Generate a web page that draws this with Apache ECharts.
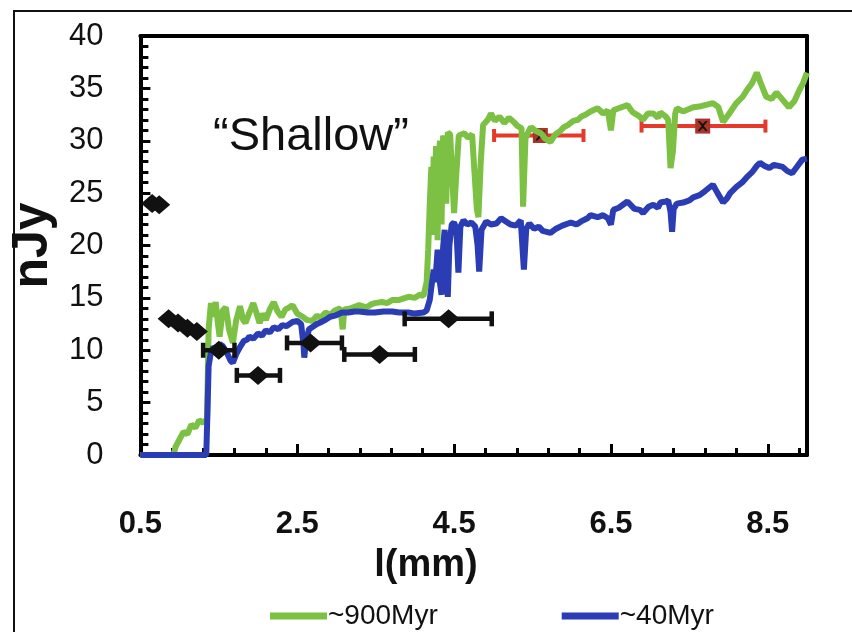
<!DOCTYPE html>
<html><head><meta charset="utf-8">
<script src="https://cdn.jsdelivr.net/npm/echarts@6/dist/echarts.min.js"></script>
<style>
html,body{margin:0;padding:0;background:#fff}
#wrap{position:relative;width:852px;height:632px;overflow:hidden;background:#fff}
#c{position:absolute;left:0;top:0;width:852px;height:632px}
#frame{position:absolute;left:13px;top:10px;width:900px;height:700px;border:2px solid #111;pointer-events:none}
</style>
</head><body><div id="wrap"><div id="frame"></div><div id="c"></div></div>
<script>
const xTicks = [0.5, 2.5, 4.5, 6.5, 8.5];
const yTicks = [0, 5, 10, 15, 20, 25, 30, 35, 40];
const seriesNames = ['~900Myr', '~40Myr'];
const xName = 'l(mm)';
const yName = 'nJy';

const green900 = [[0.5,0],[0.92,0],[0.95,0.8],[1.0,1.5],[1.05,2.2],[1.1,2.0],[1.15,2.9],[1.2,2.6],[1.25,3.3],[1.3,3.1],[1.35,3.4],[1.37,12],[1.40,14.5],[1.43,13.2],[1.46,14.6],[1.49,12.5],[1.51,11.3],[1.55,13.8],[1.59,14.1],[1.63,12.0],[1.68,10.7],[1.72,12.8],[1.77,14.2],[1.81,12.9],[1.84,12.6],[1.89,13.6],[1.94,14.5],[1.97,13.8],[2.02,12.6],[2.06,13.5],[2.10,12.9],[2.15,13.9],[2.20,14.6],[2.25,13.7],[2.30,13.2],[2.35,13.9],[2.40,14.1],[2.44,14.3],[2.50,13.5],[2.57,13.2],[2.62,12.9],[2.69,12.8],[2.75,13.3],[2.80,13.1],[2.86,13.6],[2.92,13.4],[2.98,13.8],[3.05,14.0],[3.08,12.0],[3.10,13.9],[3.18,14.0],[3.25,14.2],[3.29,14.3],[3.38,14.1],[3.45,14.4],[3.49,14.5],[3.58,14.6],[3.65,14.5],[3.71,14.8],[3.80,14.8],[3.88,15.0],[3.92,15.1],[4.00,15.0],[4.06,15.3],[4.11,15.2],[4.15,16.5],[4.17,19.6],[4.19,24],[4.21,27.5],[4.22,21],[4.24,28.5],[4.25,23],[4.27,29.5],[4.29,20.5],[4.30,27.5],[4.32,30],[4.34,22],[4.36,30.5],[4.38,29.5],[4.40,24],[4.42,30.8],[4.45,30.6],[4.48,26],[4.50,23.1],[4.53,27],[4.56,30.5],[4.63,30.7],[4.68,30.3],[4.73,30.6],[4.76,27],[4.79,23.5],[4.81,22.7],[4.84,28],[4.87,31.5],[4.93,32.0],[4.97,32.6],[5.02,31.9],[5.08,32.3],[5.14,31.7],[5.20,32.2],[5.26,31.8],[5.31,31.4],[5.36,31.2],[5.38,23.7],[5.41,30.2],[5.45,30.9],[5.48,31.3],[5.55,30.9],[5.61,30.7],[5.66,30.2],[5.73,29.9],[5.79,30.6],[5.85,30.9],[5.90,31.3],[5.95,31.5],[6.02,31.9],[6.08,32.0],[6.12,32.3],[6.18,32.5],[6.24,32.8],[6.33,33.1],[6.40,32.6],[6.46,32.9],[6.50,31.0],[6.53,32.9],[6.60,33.1],[6.71,33.4],[6.78,32.7],[6.85,32.4],[6.91,32.0],[6.97,32.6],[7.04,32.6],[7.10,32.2],[7.13,32.7],[7.20,32.3],[7.23,32.0],[7.26,27.4],[7.29,29],[7.32,32.6],[7.34,33.1],[7.42,32.8],[7.55,33.2],[7.65,33.3],[7.80,33.6],[7.87,33.2],[7.93,31.8],[8.00,32.5],[8.10,33.6],[8.18,34.2],[8.23,34.8],[8.30,35.5],[8.36,36.5],[8.42,35.3],[8.48,34.2],[8.55,34.0],[8.61,34.6],[8.68,34.0],[8.77,33.2],[8.84,33.8],[8.90,34.8],[8.95,35.5],[9.0,36.5]];

const blue40 = [[0.5,0],[1.34,0],[1.355,4],[1.37,8.5],[1.40,9.8],[1.43,10.3],[1.47,10.1],[1.51,10.6],[1.55,10.4],[1.60,9.8],[1.65,9.0],[1.68,8.8],[1.72,9.6],[1.77,10.3],[1.82,10.9],[1.86,11.0],[1.89,11.3],[1.94,11.1],[2.00,11.6],[2.05,11.4],[2.10,11.9],[2.15,11.7],[2.20,12.2],[2.26,12.0],[2.31,12.4],[2.36,12.3],[2.44,12.7],[2.50,12.8],[2.55,12.5],[2.58,10.5],[2.59,9.3],[2.61,10.8],[2.65,12.0],[2.69,12.2],[2.75,12.5],[2.81,12.7],[2.86,12.9],[2.92,13.2],[2.98,13.3],[3.07,13.6],[3.15,13.6],[3.23,13.7],[3.29,13.7],[3.40,13.6],[3.49,13.6],[3.60,13.7],[3.71,13.7],[3.80,13.6],[3.92,13.6],[4.00,13.5],[4.11,13.6],[4.15,13.8],[4.19,14.8],[4.21,16],[4.24,17.7],[4.26,16.5],[4.29,19.6],[4.31,17],[4.34,15.3],[4.36,19.8],[4.38,21.5],[4.40,18],[4.42,15.1],[4.44,20],[4.47,22.0],[4.50,22.2],[4.53,21.5],[4.555,17.4],[4.58,21.8],[4.62,22.4],[4.67,22.0],[4.72,22.2],[4.77,21.8],[4.80,20],[4.82,17.5],[4.85,21.5],[4.91,22.3],[4.97,22.0],[5.04,22.1],[5.10,22.6],[5.16,22.3],[5.22,22.0],[5.29,21.9],[5.35,22.4],[5.39,17.7],[5.42,21.6],[5.46,22.1],[5.52,21.6],[5.58,21.8],[5.63,21.4],[5.73,21.2],[5.80,21.6],[5.88,21.9],[5.99,22.2],[6.06,22.0],[6.12,22.3],[6.20,22.6],[6.24,22.9],[6.33,22.7],[6.40,22.9],[6.46,22.6],[6.50,22.0],[6.53,23.4],[6.60,23.6],[6.71,24.2],[6.80,23.5],[6.87,23.4],[6.91,23.1],[6.98,23.7],[7.04,23.9],[7.10,23.6],[7.13,24.1],[7.20,24.2],[7.23,24.3],[7.26,23.2],[7.28,21.3],[7.30,23.5],[7.34,24.0],[7.42,24.1],[7.50,24.3],[7.55,24.6],[7.63,24.8],[7.70,25.2],[7.80,25.8],[7.86,25.0],[7.93,24.1],[7.98,24.5],[8.02,25.0],[8.10,25.6],[8.17,26.0],[8.23,26.5],[8.30,27.0],[8.36,27.6],[8.40,27.9],[8.46,27.6],[8.52,27.4],[8.58,27.7],[8.69,27.5],[8.75,27.1],[8.81,26.9],[8.87,27.5],[8.94,28.2],[9.0,28.3]];

// black data points: x, y, x-error low, x-error high
const blackX    = [0.65, 0.74, 0.86, 0.98, 1.10, 1.22, 1.50, 2.00, 2.67, 3.55, 4.43];
const blackY    = [24.0, 23.9, 13.0, 12.6, 12.1, 11.8, 10.0, 7.6, 10.7, 9.6, 13.0];
const blackLow  = [0.65, 0.74, 0.86, 0.98, 1.10, 1.22, 1.30, 1.73, 2.37, 3.10, 3.87];
const blackHigh = [0.65, 0.74, 0.86, 0.98, 1.10, 1.22, 1.70, 2.28, 3.07, 4.00, 4.98];

// red data points
const redX    = [5.60, 7.67];
const redY    = [30.5, 31.4];
const redLow  = [5.01, 6.89];
const redHigh = [6.15, 8.47];

function errRender(color, capH, lw) {
  return function (params, api) {
    const y = api.value(1), lo = api.value(2), hi = api.value(3);
    if (!(hi > lo)) return null;
    const p1 = api.coord([lo, y]), p2 = api.coord([hi, y]);
    const st = { stroke: color, lineWidth: lw };
    return { type: 'group', children: [
      { type: 'line', shape: { x1: p1[0], y1: p1[1], x2: p2[0], y2: p2[1] }, style: st },
      { type: 'line', shape: { x1: p1[0], y1: p1[1] - capH / 2, x2: p1[0], y2: p1[1] + capH / 2 }, style: st },
      { type: 'line', shape: { x1: p2[0], y1: p2[1] - capH / 2, x2: p2[0], y2: p2[1] + capH / 2 }, style: st }
    ]};
  };
}

const blackErrData = blackX.map((x, i) => [x, blackY[i], blackLow[i], blackHigh[i]]);
const redErrData = redX.map((x, i) => [x, redY[i], redLow[i], redHigh[i]]);
const blackPts = blackX.map((x, i) => [x, blackY[i]]);
const redPts = redX.map((x, i) => [x, redY[i]]);

const FONT = '"Liberation Sans", Arial, sans-serif';

const chart = echarts.init(document.getElementById('c'));
chart.setOption({
  animation: false,
  grid: { left: 137, right: 45, top: 36, bottom: 177 },
  graphic: [
    { type: 'text', left: 213, top: 114, style: { text: '\u201cShallow\u201d', font: '47px ' + FONT, fill: '#111' }, z: 50, silent: true },
    { type: 'text', left: 'center', top: 547, style: { text: xName, font: 'bold 38px ' + FONT, fill: '#111' }, silent: true }
  ],
  legend: {
    data: seriesNames,
    left: 265, top: 597,
    icon: 'rect', itemWidth: 57, itemHeight: 7, itemGap: 124,
    textStyle: { fontSize: 28, color: '#111', fontFamily: FONT, padding: [0, 0, 0, -4] }
  },
  xAxis: [{
    type: 'value', min: 0.5, max: 9, interval: 2,
    axisLine: { show: true, onZero: false, lineStyle: { color: '#000', width: 4 } },
    axisTick: { show: true, inside: true, length: 11, lineStyle: { color: '#000', width: 3 } },
    minorTick: { show: true, splitNumber: 5, length: 7, lineStyle: { color: '#000', width: 3 } },
    splitLine: { show: false },
    axisLabel: { margin: 54, fontSize: 31, fontWeight: 'bold', color: '#111', fontFamily: FONT, showMaxLabel: false }
  }, {
    type: 'value', position: 'top', min: 0.5, max: 9,
    axisLine: { show: true, onZero: false, lineStyle: { color: '#000', width: 4 } },
    axisTick: { show: false }, axisLabel: { show: false }, splitLine: { show: false }
  }],
  yAxis: [{
    type: 'value', min: 0, max: 40, interval: 5,
    name: yName, nameLocation: 'middle', nameGap: 80,
    nameTextStyle: { fontSize: 50, fontWeight: 'bold', color: '#111', fontFamily: FONT },
    axisLine: { show: true, lineStyle: { color: '#000', width: 4 } },
    axisTick: { show: true, inside: true, length: 10, lineStyle: { color: '#000', width: 3 } },
    minorTick: { show: true, splitNumber: 5, length: 8, lineStyle: { color: '#000', width: 3 } },
    splitLine: { show: false },
    axisLabel: { margin: 37, fontSize: 31, color: '#111', fontFamily: FONT }
  }, {
    type: 'value', position: 'right', min: 0, max: 40,
    axisLine: { show: true, onZero: false, lineStyle: { color: '#000', width: 4 } },
    axisTick: { show: false }, axisLabel: { show: false }, splitLine: { show: false }
  }],
  series: [
    { type: 'custom', name: 'redErr', renderItem: errRender('#e53a2a', 13, 4), data: redErrData, encode: { x: 0, y: 1 }, z: 2, silent: true },
    { type: 'scatter', name: 'redPt', data: redPts, symbol: 'rect', symbolSize: 15, itemStyle: { color: '#a8352a', opacity: 1 }, z: 3 },
    { type: 'scatter', name: 'redX', data: redPts, symbol: 'path://M0,0 L2,0 L5,3 L8,0 L10,0 L6,5 L10,10 L8,10 L5,7 L2,10 L0,10 L4,5 Z', symbolSize: 10, itemStyle: { color: '#111', opacity: 1 }, z: 4 },
    { type: 'line', name: seriesNames[0], data: green900, showSymbol: false, symbol: 'none', lineStyle: { color: '#7cc143', width: 6 }, itemStyle: { color: '#7cc143' }, z: 5 },
    { type: 'line', name: seriesNames[1], data: blue40, showSymbol: false, symbol: 'none', lineStyle: { color: '#2b3db4', width: 6 }, itemStyle: { color: '#2b3db4' }, z: 6 },
    { type: 'custom', name: 'blackErr', renderItem: errRender('#111', 15, 4.5), data: blackErrData, encode: { x: 0, y: 1 }, z: 7, silent: true },
    { type: 'scatter', name: 'blackPt', data: blackPts, symbol: 'diamond', symbolSize: [22, 19], itemStyle: { color: '#111', opacity: 1 }, z: 8 }
  ]
});
</script></body></html>
